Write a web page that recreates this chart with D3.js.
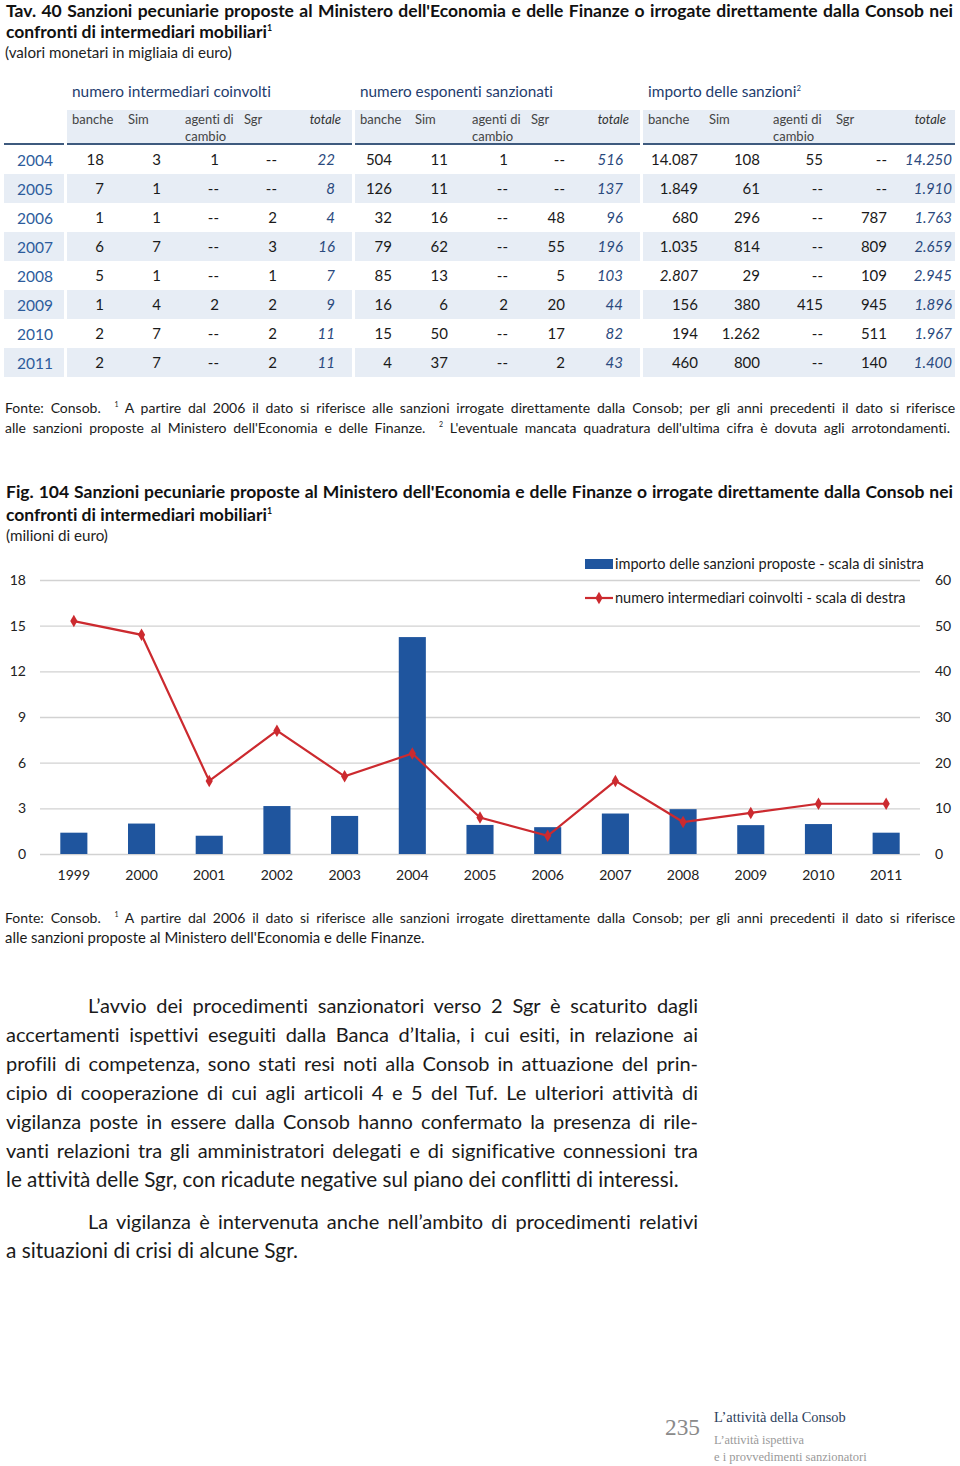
<!DOCTYPE html>
<html><head><meta charset="utf-8">
<script src="https://cdn.jsdelivr.net/npm/d3@7"></script>
<style>body{margin:0;background:#fff} svg{display:block} text{white-space:pre;font-variant-ligatures:none}</style>
</head><body>
<svg id="page" width="960" height="1466"></svg>
<script>
// ---------------- DATA ----------------
const tableYears = [2004, 2005, 2006, 2007, 2008, 2009, 2010, 2011];
const intBanche  = [18, 7, 1, 6, 5, 1, 2, 2];
const intSim     = [3, 1, 1, 7, 1, 4, 7, 7];
const intAgenti  = [1, null, null, null, null, 2, null, null];
const intSgr     = [null, null, 2, 3, 1, 2, 2, 2];
const intTot     = [22, 8, 4, 16, 7, 9, 11, 11];
const espBanche  = [504, 126, 32, 79, 85, 16, 15, 4];
const espSim     = [11, 11, 16, 62, 13, 6, 50, 37];
const espAgenti  = [1, null, null, null, null, 2, null, null];
const espSgr     = [null, null, 48, 55, 5, 20, 17, 2];
const espTot     = [516, 137, 96, 196, 103, 44, 82, 43];
const impBanche  = [14087, 1849, 680, 1035, 2807, 156, 194, 460];
const impSim     = [108, 61, 296, 814, 29, 380, 1262, 800];
const impAgenti  = [55, null, null, null, null, 415, null, null];
const impSgr     = [null, null, 787, 809, 109, 945, 511, 140];
const impTot     = [14250, 1910, 1763, 2659, 2945, 1896, 1967, 1400];

const groupLabels = ["numero intermediari coinvolti", "numero esponenti sanzionati", "importo delle sanzioni^2^"];
const colLabels = ["banche", "Sim", "agenti di|cambio", "Sgr", "totale"];

const chartYears = ["1999","2000","2001","2002","2003","2004","2005","2006","2007","2008","2009","2010","2011"];
const importoSanzioni = [1.4, 2.0, 1.2, 3.15, 2.5, 14.25, 1.91, 1.763, 2.659, 2.945, 1.896, 1.967, 1.4];
const numIntermediari = [51, 48, 16, 27, 17, 22, 8, 4, 16, 7, 9, 11, 11];
const leftTicks = [0, 3, 6, 9, 12, 15, 18];
const rightTicks = [0, 10, 20, 30, 40, 50, 60];
const legendLabels = ["importo delle sanzioni proposte - scala di sinistra", "numero intermediari coinvolti - scala di destra"];

const tavTitle = ["Tav. 40 Sanzioni pecuniarie proposte al Ministero dell'Economia e delle Finanze o irrogate direttamente dalla Consob nei",
                  "confronti di intermediari mobiliari^1^"];
const tavSub = "(valori monetari in migliaia di euro)";
const tavNotes = ["Fonte: Consob.  ^1^ A partire dal 2006 il dato si riferisce alle sanzioni irrogate direttamente dalla Consob; per gli anni precedenti il dato si riferisce",
                  "alle sanzioni proposte al Ministero dell'Economia e delle Finanze.  ^2^ L'eventuale mancata quadratura dell'ultima cifra è dovuta agli arrotondamenti."];
const figTitle = ["Fig. 104 Sanzioni pecuniarie proposte al Ministero dell'Economia e delle Finanze o irrogate direttamente dalla Consob nei",
                  "confronti di intermediari mobiliari^1^"];
const figSub = "(milioni di euro)";
const figNotes = ["Fonte: Consob.  ^1^ A partire dal 2006 il dato si riferisce alle sanzioni irrogate direttamente dalla Consob; per gli anni precedenti il dato si riferisce",
                  "alle sanzioni proposte al Ministero dell'Economia e delle Finanze."];
const bodyPar1 = ["L’avvio dei procedimenti sanzionatori verso 2 Sgr è scaturito dagli",
  "accertamenti ispettivi eseguiti dalla Banca d’Italia, i cui esiti, in relazione ai",
  "profili di competenza, sono stati resi noti alla Consob in attuazione del prin-",
  "cipio di cooperazione di cui agli articoli 4 e 5 del Tuf. Le ulteriori attività di",
  "vigilanza poste in essere dalla Consob hanno confermato la presenza di rile-",
  "vanti relazioni tra gli amministratori delegati e di significative connessioni tra",
  "le attività delle Sgr, con ricadute negative sul piano dei conflitti di interessi."];
const bodyPar2 = ["La vigilanza è intervenuta anche nell’ambito di procedimenti relativi",
  "a situazioni di crisi di alcune Sgr."];
const footerNum = "235";
const footerLines = ["L’attività della Consob", "L’attività ispettiva", "e i provvedimenti sanzionatori"];

// ---------------- HELPERS ----------------
const SANS = "Lato, 'Open Sans', 'Noto Sans', sans-serif";
const SERIF = "'Liberation Serif', 'DejaVu Serif', serif";
const svg = d3.select("#page");
const itFmt = d3.formatLocale({decimal: ",", thousands: ".", grouping: [3], currency: ["", " €"]}).format(",d");
const fmt = v => v == null ? "--" : itFmt(v);

// o.width: target width; o.mode: "justify" (word spacing) or "fit" (font size)
function addText(g, str, x, cy, o = {}) {
  let size = o.size || 14;
  const t = g.append("text")
    .attr("x", x).attr("y", cy + size * 0.36)
    .attr("font-family", o.family || SANS)
    .attr("font-size", size)
    .attr("font-weight", o.weight || 400)
    .attr("font-style", o.style || "normal")
    .attr("fill", o.fill || "#222")
    .attr("text-anchor", o.anchor || "start");
  const parts = str.split("^");
  const shift = size * 0.42;
  let pending = 0;
  const sups = [];
  parts.forEach((p, i) => {
    if (!p) return;
    const ts = t.append("tspan").text(p);
    if (i % 2 === 1) {
      ts.attr("dy", -shift + pending).attr("font-size", size * 0.5);
      sups.push(ts);
      pending = shift;
    } else if (pending) {
      ts.attr("dy", pending); pending = 0;
    }
  });
  t.finalSize = size;
  if (o.width) {
    const node = t.node();
    let w = node.getComputedTextLength();
    const setSize = s => {
      t.attr("font-size", s);
      sups.forEach(ts => ts.attr("font-size", s * 0.5));
      t.finalSize = s;
    };
    if (o.mode === "fit") {
      const k = Math.max(0.8, Math.min(1.12, o.width / w));
      setSize(size * k);
    } else {
      if (w > o.width) { setSize(size * o.width / w * 0.998); w = node.getComputedTextLength(); }
      const spaces = (str.replace(/\^[^^]*\^/g, "x").match(/ /g) || []).length;
      if (spaces && w < o.width) t.attr("word-spacing", ((o.width - w) / spaces).toFixed(2));
    }
  }
  return t;
}

// ---------------- TABLE ----------------
const tt1 = addText(svg, tavTitle[0], 6, 10.5, {size: 17.5, weight: 700, fill: "#111", width: 947});
addText(svg, tavTitle[1], 6, 32, {size: tt1.finalSize, weight: 700, fill: "#111"});
addText(svg, tavSub, 5, 53, {size: 14.5, fill: "#222", width: 227, mode: "fit"});

const groups = [
  {x0: 67, x1: 352, cols: [37, 94, 152, 210, 268], labs: [5, 61, 118, 177, 274], lw: 199,
   data: [intBanche, intSim, intAgenti, intSgr, intTot]},
  {x0: 355, x1: 640, cols: [37, 93, 153, 210, 268], labs: [5, 60, 117, 176, 274], lw: 193,
   data: [espBanche, espSim, espAgenti, espSgr, espTot]},
  {x0: 643, x1: 955, cols: [55, 117, 180, 244, 309], labs: [5, 66, 130, 193, 303], lw: 153,
   data: [impBanche, impSim, impAgenti, impSgr, impTot]}
];
const bandCol = "#e7edf5";
const rowY = d3.scalePoint().domain(tableYears).range([160, 363]);
const labelSeg = {x0: 4, x1: 64};

groups.forEach((gr, gi) => {
  svg.append("rect").attr("x", gr.x0).attr("y", 110).attr("width", gr.x1 - gr.x0).attr("height", 33).attr("fill", bandCol);
  addText(svg, groupLabels[gi], gr.x0 + 5, 92, {size: 15, fill: "#1f3d6e", width: gr.lw, mode: "fit"});
  colLabels.forEach((cl, ci) => {
    const lines = cl.split("|");
    if (ci === 4) {
      addText(svg, cl, gr.x0 + gr.labs[ci], 119, {size: 13, fill: "#333", style: "italic", anchor: "end"});
    } else {
      lines.forEach((l, li) => addText(svg, l, gr.x0 + gr.labs[ci], 119 + li * 17, {size: 13, fill: "#444"}));
    }
  });
});
[labelSeg, ...groups].forEach(s => {
  svg.append("line").attr("x1", s.x0).attr("x2", s.x1).attr("y1", 144).attr("y2", 144)
    .attr("stroke", "#3e5a7e").attr("stroke-width", 2);
});

tableYears.forEach((yr, i) => {
  if (i % 2 === 1) {
    [labelSeg, ...groups].forEach(s => {
      svg.append("rect").attr("x", s.x0).attr("y", rowY(yr) - 15).attr("width", s.x1 - s.x0).attr("height", 29).attr("fill", bandCol);
    });
  }
});
tableYears.forEach((yr, i) => {
  const cy = rowY(yr);
  addText(svg, String(yr), 17, cy, {size: 15.5, fill: "#2d5c9c"});
  groups.forEach(gr => {
    gr.data.forEach((arr, ci) => {
      const isTot = ci === 4;
      const italic = isTot || (arr === impBanche && yr === 2008);
      addText(svg, fmt(arr[i]), gr.x0 + gr.cols[ci], cy, {
        size: 15, anchor: "end", style: italic ? "italic" : "normal",
        fill: isTot ? "#2b4a7e" : "#1a1a1a"});
    });
  });
});

addText(svg, tavNotes[0], 5, 408, {size: 14, fill: "#1a1a1a", width: 950});
addText(svg, tavNotes[1], 5, 428, {size: 14, fill: "#1a1a1a", width: 945});

// ---------------- FIGURE ----------------
const ft1 = addText(svg, figTitle[0], 6, 492, {size: 17.5, weight: 700, fill: "#111", width: 947});
addText(svg, figTitle[1], 6, 515, {size: ft1.finalSize, weight: 700, fill: "#111"});
addText(svg, figSub, 6, 536, {size: 14.5, fill: "#222", width: 102, mode: "fit"});

const plot = {x0: 40, x1: 920, y0: 854, y1: 580};
const x = d3.scaleBand().domain(chartYears).range([plot.x0, plot.x1]).paddingInner(0.6).paddingOuter(0.3);
const yL = d3.scaleLinear().domain([0, 18]).range([plot.y0, plot.y1]);
const yR = d3.scaleLinear().domain([0, 60]).range([plot.y0, plot.y1]);

const axL = svg.append("g").attr("transform", `translate(${plot.x0},0)`)
  .call(d3.axisLeft(yL).tickValues(leftTicks).tickSizeInner(-(plot.x1 - plot.x0)).tickSizeOuter(0).tickPadding(14));
axL.select(".domain").remove();
axL.selectAll(".tick line").attr("stroke", "#d2d2d2").attr("stroke-width", 1.4);
axL.selectAll(".tick text").attr("font-family", SANS).attr("font-size", 14).attr("fill", "#222");

const axR = svg.append("g").attr("transform", `translate(${plot.x1},0)`)
  .call(d3.axisRight(yR).tickValues(rightTicks).tickSize(0).tickPadding(15));
axR.select(".domain").remove();
axR.selectAll(".tick text").attr("font-family", SANS).attr("font-size", 14).attr("fill", "#222");

const axB = svg.append("g").attr("transform", `translate(0,${plot.y0})`)
  .call(d3.axisBottom(x).tickSize(0).tickPadding(16));
axB.select(".domain").remove();
axB.selectAll(".tick text").attr("font-family", SANS).attr("font-size", 14).attr("fill", "#222");

svg.append("g").selectAll("rect").data(chartYears).join("rect")
  .attr("x", d => x(d)).attr("width", x.bandwidth())
  .attr("y", (d, i) => yL(importoSanzioni[i]))
  .attr("height", (d, i) => yL(0) - yL(importoSanzioni[i]))
  .attr("fill", "#1f559e");

const cx = d => x(d) + x.bandwidth() / 2;
const lineGen = d3.line().x(d => cx(d)).y((d, i) => yR(numIntermediari[i]));
svg.append("path").datum(chartYears).attr("d", lineGen)
  .attr("fill", "none").attr("stroke", "#cc2a2f").attr("stroke-width", 2.2);
const diamond = d3.symbol().type(d3.symbolDiamond).size(45);
svg.append("g").selectAll("path").data(chartYears).join("path")
  .attr("d", diamond)
  .attr("transform", (d, i) => `translate(${cx(d)},${yR(numIntermediari[i])})`)
  .attr("fill", "#cc2a2f");

const lg = svg.append("g");
lg.append("rect").attr("x", 585).attr("y", 559).attr("width", 28).attr("height", 10).attr("fill", "#1f559e");
addText(lg, legendLabels[0], 615, 564, {size: 14.5, fill: "#1a1a1a", width: 309, mode: "fit"});
lg.append("line").attr("x1", 585).attr("x2", 613).attr("y1", 598).attr("y2", 598).attr("stroke", "#cc2a2f").attr("stroke-width", 2.2);
lg.append("path").attr("d", diamond).attr("transform", "translate(599,598)").attr("fill", "#cc2a2f");
addText(lg, legendLabels[1], 615, 598, {size: 14.5, fill: "#1a1a1a", width: 291, mode: "fit"});

addText(svg, figNotes[0], 5, 918, {size: 14, fill: "#1a1a1a", width: 950});
addText(svg, figNotes[1], 5, 938, {size: 14, fill: "#1a1a1a", width: 420, mode: "fit"});

// ---------------- BODY TEXT ----------------
bodyPar1.forEach((l, i) => {
  const last = i === bodyPar1.length - 1;
  const xs = i === 0 ? 88 : 6;
  const w = i === 0 ? 610 : (last ? 673 : 692);
  addText(svg, l, xs, 1006 + i * 29, {size: 20, fill: "#1a1a1a", width: w, mode: last ? "fit" : "justify"});
});
bodyPar2.forEach((l, i) => {
  const xs = i === 0 ? 88 : 6;
  const w = i === 0 ? 610 : 292;
  addText(svg, l, xs, 1222 + i * 29, {size: 20, fill: "#1a1a1a", width: w, mode: i === 0 ? "justify" : "fit"});
});

// ---------------- FOOTER ----------------
addText(svg, footerNum, 665, 1427, {size: 21, family: SERIF, fill: "#8a8a8a", width: 35, mode: "fit"});
addText(svg, footerLines[0], 714, 1417, {size: 14, family: SERIF, fill: "#2c3e5c", width: 132, mode: "fit"});
addText(svg, footerLines[1], 714, 1440, {size: 11.5, family: SERIF, fill: "#9a9a9a", width: 90, mode: "fit"});
addText(svg, footerLines[2], 714, 1457, {size: 11.5, family: SERIF, fill: "#9a9a9a", width: 153, mode: "fit"});
</script>
</body></html>
